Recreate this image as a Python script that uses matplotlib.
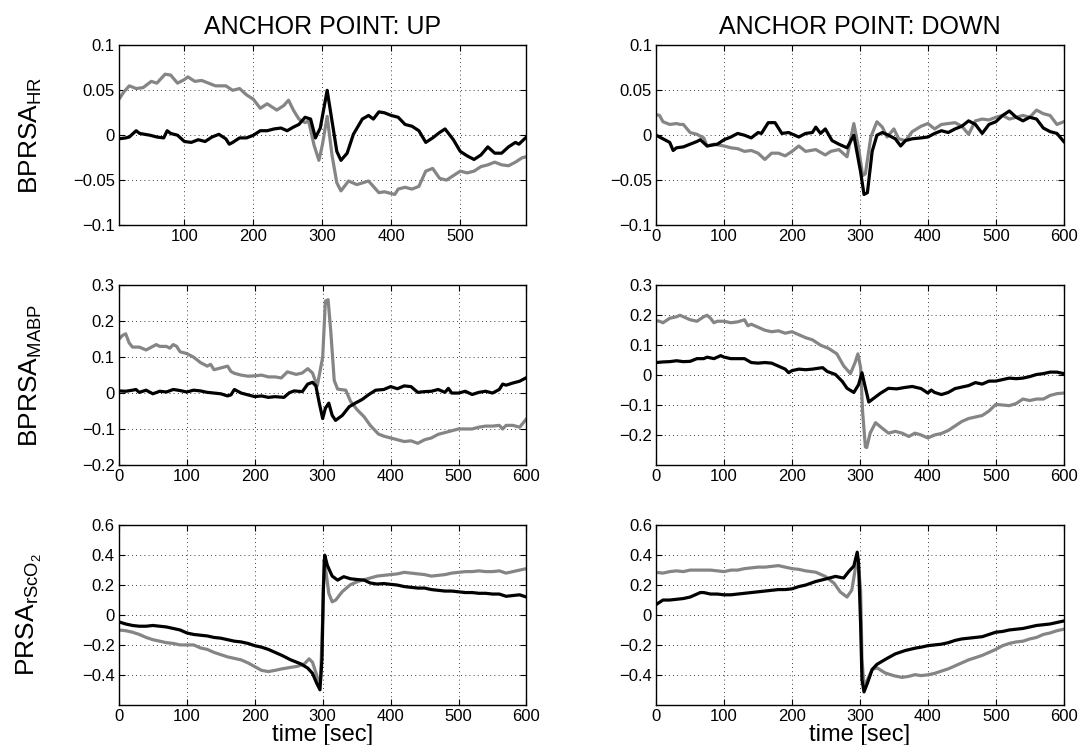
import matplotlib
matplotlib.use("Agg")
import matplotlib.pyplot as plt
from matplotlib.ticker import FuncFormatter

plt.rcParams['font.family'] = ['Liberation Sans', 'DejaVu Sans']
plt.rcParams['mathtext.fontset'] = 'custom'
plt.rcParams['mathtext.rm'] = 'Liberation Sans'
plt.rcParams['mathtext.it'] = 'Liberation Sans'

# ---- data: (time [s], value) ----
hr_up_gray = [(5,0.040),(12,0.048),(20,0.055),(30,0.052),(40,0.053),(52,0.060),(60,0.058),(72,0.068),(80,0.067),(90,0.058),(100,0.062),(105,0.065),(115,0.060),(125,0.061),(135,0.058),(145,0.055),(160,0.055),(170,0.050),(180,0.052),(190,0.045),(200,0.040),(210,0.030),(220,0.035),(234,0.028),(244,0.033),(251,0.039),(258,0.028),(266,0.018),(275,0.014),(280,0.016),(288,-0.011),(295,-0.028),(300,-0.011),(307,0.021),(314,-0.022),(321,-0.053),(327,-0.062),(338,-0.051),(350,-0.055),(367,-0.051),(382,-0.064),(390,-0.063),(400,-0.065),(405,-0.066),(410,-0.060),(420,-0.058),(430,-0.060),(440,-0.057),(450,-0.040),(460,-0.037),(470,-0.048),(480,-0.050),(490,-0.045),(500,-0.040),(510,-0.042),(520,-0.040),(530,-0.035),(540,-0.033),(550,-0.030),(560,-0.033),(570,-0.034),(580,-0.030),(590,-0.025),(596,-0.024)]
hr_up_black = [(5,-0.004),(15,-0.003),(20,-0.002),(30,0.005),(35,0.002),(50,0.0),(60,-0.002),(70,-0.003),(75,0.005),(80,0.002),(90,0.0),(100,-0.007),(110,-0.008),(120,-0.005),(130,-0.007),(140,-0.002),(150,0.001),(160,-0.004),(165,-0.010),(170,-0.008),(180,-0.003),(190,-0.003),(200,0.0),(210,0.005),(220,0.005),(230,0.007),(240,0.008),(249,0.005),(258,0.009),(266,0.012),(275,0.020),(283,0.018),(290,-0.003),(297,0.008),(307,0.050),(314,0.016),(321,-0.018),(327,-0.028),(336,-0.020),(345,0.001),(358,0.018),(367,0.022),(374,0.018),(382,0.026),(390,0.025),(400,0.022),(410,0.020),(420,0.012),(430,0.010),(440,0.005),(450,-0.008),(460,-0.003),(470,0.003),(478,0.007),(490,-0.005),(500,-0.018),(510,-0.023),(520,-0.027),(530,-0.022),(540,-0.013),(550,-0.020),(560,-0.020),(570,-0.013),(580,-0.008),(585,-0.010),(596,-0.002)]

hr_down_gray = [(0,0.023),(5,0.022),(10,0.015),(20,0.012),(30,0.013),(35,0.012),(40,0.012),(50,0.003),(60,0.001),(70,-0.003),(75,-0.012),(85,-0.010),(100,-0.012),(110,-0.014),(120,-0.015),(130,-0.018),(140,-0.017),(150,-0.020),(160,-0.027),(170,-0.020),(180,-0.020),(190,-0.023),(200,-0.018),(210,-0.012),(220,-0.018),(235,-0.016),(249,-0.022),(257,-0.018),(269,-0.016),(281,-0.024),(291,0.013),(298,-0.014),(304,-0.045),(308,-0.043),(316,-0.002),(325,0.015),(333,0.009),(340,-0.002),(350,0.007),(357,-0.004),(367,-0.006),(377,0.004),(390,0.010),(400,0.013),(410,0.007),(420,0.012),(430,0.013),(440,0.014),(450,0.010),(460,0.001),(470,0.016),(480,0.018),(490,0.017),(500,0.020),(510,0.022),(520,0.018),(530,0.020),(540,0.022),(550,0.020),(560,0.028),(570,0.024),(580,0.022),(590,0.012),(600,0.015)]
hr_down_black = [(0,0.0),(5,-0.002),(10,-0.004),(20,-0.008),(25,-0.017),(30,-0.014),(40,-0.013),(50,-0.010),(60,-0.007),(65,-0.005),(75,-0.012),(90,-0.010),(100,-0.005),(110,-0.002),(120,0.002),(130,0.0),(140,-0.003),(150,0.003),(155,0.002),(165,0.014),(175,0.014),(185,0.002),(195,0.003),(210,-0.002),(220,0.002),(230,0.003),(235,0.009),(242,0.002),(249,0.007),(259,-0.006),(269,-0.010),(281,-0.014),(291,0.0),(301,-0.041),(306,-0.066),(311,-0.064),(318,-0.018),(325,0.0),(333,0.003),(342,0.0),(352,-0.004),(360,-0.012),(367,-0.006),(377,-0.004),(390,-0.003),(400,-0.002),(410,0.002),(420,0.005),(430,0.003),(440,0.007),(450,0.010),(460,0.016),(470,0.012),(480,0.002),(490,0.012),(500,0.015),(510,0.022),(520,0.027),(530,0.020),(540,0.016),(550,0.020),(560,0.018),(570,0.008),(580,0.004),(590,0.002),(600,-0.007)]

mabp_up_gray = [(0,0.150),(5,0.160),(10,0.165),(15,0.140),(20,0.128),(30,0.128),(40,0.120),(50,0.130),(55,0.135),(60,0.130),(70,0.130),(75,0.125),(80,0.135),(85,0.130),(90,0.115),(100,0.110),(110,0.100),(120,0.085),(130,0.075),(135,0.080),(140,0.065),(150,0.070),(160,0.075),(165,0.060),(170,0.055),(180,0.050),(190,0.047),(200,0.048),(210,0.050),(220,0.045),(230,0.045),(239,0.042),(248,0.059),(261,0.052),(270,0.056),(278,0.068),(285,0.056),(292,0.020),(300,0.100),(304,0.256),(308,0.260),(312,0.170),(317,0.035),(322,0.011),(334,0.008),(341,-0.023),(351,-0.047),(361,-0.066),(370,-0.090),(382,-0.114),(390,-0.120),(400,-0.125),(410,-0.130),(420,-0.135),(430,-0.133),(440,-0.140),(450,-0.130),(460,-0.125),(470,-0.115),(480,-0.110),(490,-0.105),(500,-0.100),(510,-0.100),(520,-0.100),(530,-0.095),(540,-0.092),(550,-0.092),(560,-0.090),(565,-0.100),(570,-0.090),(580,-0.090),(590,-0.095),(600,-0.072)]
mabp_up_black = [(0,0.006),(10,0.005),(20,0.008),(25,0.010),(30,0.002),(40,0.008),(50,-0.002),(60,0.005),(70,0.003),(80,0.010),(90,0.007),(100,0.003),(110,0.008),(120,0.006),(130,0.002),(140,0.0),(150,-0.002),(160,-0.008),(165,-0.005),(170,0.010),(180,0.0),(190,-0.005),(200,-0.010),(210,-0.008),(220,-0.012),(230,-0.010),(243,-0.012),(251,0.001),(258,0.006),(270,0.004),(278,0.025),(285,0.030),(290,0.020),(295,-0.028),(300,-0.071),(304,-0.042),(309,-0.028),(314,-0.062),(319,-0.076),(329,-0.062),(339,-0.038),(348,-0.028),(358,-0.018),(368,-0.004),(378,0.008),(390,0.010),(400,0.018),(410,0.012),(420,0.020),(430,0.018),(440,0.002),(450,0.004),(460,0.005),(470,0.010),(480,0.002),(485,0.013),(490,0.0),(500,0.0),(510,0.005),(520,-0.004),(530,0.002),(540,0.005),(550,0.0),(560,0.010),(565,0.025),(570,0.022),(580,0.028),(590,0.033),(600,0.043)]

mabp_down_gray = [(0,0.182),(5,0.180),(10,0.175),(20,0.190),(30,0.195),(35,0.200),(40,0.195),(50,0.185),(60,0.180),(70,0.195),(75,0.200),(80,0.190),(85,0.175),(90,0.180),(100,0.180),(110,0.175),(120,0.178),(130,0.185),(135,0.165),(140,0.170),(150,0.160),(160,0.150),(170,0.145),(180,0.148),(190,0.140),(200,0.145),(210,0.135),(220,0.125),(230,0.118),(242,0.100),(254,0.089),(266,0.071),(276,0.031),(286,0.005),(293,0.043),(297,0.071),(301,0.025),(304,-0.125),(308,-0.240),(310,-0.242),(315,-0.194),(323,-0.159),(332,-0.176),(342,-0.194),(352,-0.188),(362,-0.194),(372,-0.205),(381,-0.194),(390,-0.200),(400,-0.210),(410,-0.200),(420,-0.195),(430,-0.185),(440,-0.170),(450,-0.155),(460,-0.145),(470,-0.140),(480,-0.135),(490,-0.120),(500,-0.098),(510,-0.100),(520,-0.102),(530,-0.095),(540,-0.080),(550,-0.085),(560,-0.080),(570,-0.080),(580,-0.068),(590,-0.062),(600,-0.060)]
mabp_down_black = [(0,0.042),(10,0.044),(20,0.045),(30,0.048),(40,0.045),(50,0.046),(60,0.055),(70,0.055),(75,0.060),(85,0.055),(95,0.065),(100,0.060),(110,0.055),(120,0.055),(130,0.055),(140,0.042),(150,0.040),(160,0.042),(170,0.040),(180,0.030),(190,0.020),(195,0.008),(200,0.015),(210,0.020),(220,0.018),(230,0.020),(245,0.025),(252,0.012),(264,0.002),(274,-0.021),(281,-0.044),(291,-0.058),(298,-0.032),(303,0.008),(307,-0.032),(313,-0.090),(320,-0.078),(330,-0.061),(342,-0.044),(354,-0.046),(367,-0.041),(377,-0.038),(390,-0.045),(400,-0.060),(405,-0.050),(410,-0.058),(420,-0.065),(430,-0.058),(440,-0.045),(450,-0.040),(460,-0.035),(470,-0.025),(480,-0.030),(490,-0.020),(500,-0.020),(510,-0.015),(520,-0.010),(530,-0.012),(540,-0.010),(550,-0.005),(560,0.002),(570,0.005),(580,0.010),(590,0.010),(600,0.005)]

rso2_up_gray = [(0,-0.100),(10,-0.105),(20,-0.115),(30,-0.130),(40,-0.150),(50,-0.165),(60,-0.175),(70,-0.185),(80,-0.190),(90,-0.200),(100,-0.200),(110,-0.200),(120,-0.220),(130,-0.230),(140,-0.250),(150,-0.265),(160,-0.280),(170,-0.290),(180,-0.300),(190,-0.320),(200,-0.345),(210,-0.370),(220,-0.378),(230,-0.370),(240,-0.360),(253,-0.350),(263,-0.343),(273,-0.327),(280,-0.293),(285,-0.316),(290,-0.385),(295,-0.454),(297,-0.420),(300,-0.016),(302,0.370),(305,0.284),(309,0.145),(314,0.088),(319,0.099),(329,0.157),(341,0.203),(353,0.226),(366,0.242),(380,0.260),(390,0.265),(400,0.270),(410,0.275),(420,0.285),(430,0.280),(440,0.275),(450,0.270),(460,0.260),(470,0.265),(480,0.270),(490,0.280),(500,0.285),(510,0.290),(520,0.290),(530,0.295),(540,0.290),(550,0.290),(560,0.295),(570,0.280),(580,0.290),(590,0.300),(600,0.310)]
rso2_up_black = [(0,-0.046),(10,-0.060),(20,-0.070),(30,-0.075),(40,-0.075),(50,-0.070),(60,-0.075),(70,-0.080),(80,-0.090),(90,-0.100),(100,-0.120),(110,-0.130),(120,-0.135),(130,-0.140),(140,-0.150),(150,-0.155),(160,-0.165),(170,-0.175),(180,-0.180),(190,-0.190),(200,-0.205),(210,-0.215),(220,-0.230),(230,-0.250),(240,-0.270),(253,-0.300),(268,-0.327),(278,-0.355),(285,-0.390),(291,-0.454),(296,-0.500),(299,-0.293),(301,0.168),(303,0.400),(307,0.330),(314,0.260),(322,0.233),(331,0.256),(341,0.242),(351,0.237),(361,0.233),(370,0.214),(380,0.207),(390,0.210),(400,0.205),(410,0.200),(420,0.190),(430,0.185),(440,0.180),(450,0.180),(460,0.170),(470,0.165),(480,0.160),(490,0.160),(500,0.155),(510,0.150),(520,0.150),(530,0.145),(540,0.145),(550,0.140),(560,0.140),(570,0.125),(580,0.130),(590,0.135),(600,0.120)]

rso2_down_gray = [(0,0.285),(10,0.280),(20,0.290),(30,0.295),(40,0.290),(50,0.300),(60,0.300),(70,0.300),(80,0.300),(90,0.295),(100,0.290),(110,0.300),(120,0.300),(130,0.310),(140,0.315),(150,0.320),(160,0.320),(170,0.325),(180,0.330),(190,0.320),(200,0.310),(210,0.305),(220,0.295),(235,0.286),(249,0.258),(262,0.212),(271,0.154),(281,0.120),(288,0.166),(293,0.304),(297,0.373),(301,0.166),(303,-0.295),(306,-0.480),(311,-0.433),(318,-0.364),(325,-0.353),(337,-0.387),(350,-0.406),(362,-0.417),(372,-0.410),(381,-0.399),(390,-0.405),(400,-0.400),(410,-0.390),(420,-0.375),(430,-0.360),(440,-0.340),(450,-0.320),(460,-0.300),(470,-0.285),(480,-0.270),(490,-0.250),(500,-0.230),(510,-0.205),(520,-0.190),(530,-0.180),(540,-0.175),(550,-0.160),(560,-0.150),(570,-0.130),(580,-0.120),(590,-0.105),(600,-0.095)]
rso2_down_black = [(0,0.070),(10,0.100),(20,0.100),(30,0.105),(40,0.110),(50,0.120),(60,0.140),(65,0.150),(70,0.150),(80,0.140),(90,0.140),(100,0.135),(110,0.135),(120,0.140),(130,0.145),(140,0.150),(150,0.155),(160,0.160),(170,0.165),(180,0.170),(190,0.170),(200,0.175),(210,0.190),(220,0.200),(235,0.224),(249,0.240),(264,0.258),(276,0.247),(284,0.293),(291,0.327),(296,0.420),(298,0.350),(301,-0.065),(303,-0.433),(306,-0.514),(311,-0.456),(318,-0.364),(325,-0.330),(338,-0.295),(352,-0.260),(367,-0.237),(382,-0.221),(390,-0.215),(400,-0.205),(410,-0.200),(420,-0.195),(430,-0.185),(440,-0.170),(450,-0.160),(460,-0.155),(470,-0.150),(480,-0.145),(490,-0.130),(500,-0.115),(510,-0.110),(520,-0.100),(530,-0.095),(540,-0.090),(550,-0.080),(560,-0.070),(570,-0.065),(580,-0.060),(590,-0.050),(600,-0.040)]

col_titles = ["ANCHOR POINT: UP", "ANCHOR POINT: DOWN"]
row_labels = [r"BPRSA$_{\mathrm{HR}}$", r"BPRSA$_{\mathrm{MABP}}$", r"PRSA$_{\mathrm{rScO}_{2}}$"]
row_ylims = [(-0.1, 0.1), (-0.2, 0.3), (-0.6, 0.6)]
row_yticks = [[-0.1, -0.05, 0, 0.05, 0.1], [-0.2, -0.1, 0, 0.1, 0.2, 0.3], [-0.4, -0.2, 0, 0.2, 0.4, 0.6]]
xticks_full = [0, 100, 200, 300, 400, 500, 600]

panels = [
    [(hr_up_gray, hr_up_black), (hr_down_gray, hr_down_black)],
    [(mabp_up_gray, mabp_up_black), (mabp_down_gray, mabp_down_black)],
    [(rso2_up_gray, rso2_up_black), (rso2_down_gray, rso2_down_black)],
]

GRAY = '#858585'


def fmt(v, pos):
    s = '%g' % round(v, 4)
    return s.replace('-', '\u2212')


fig = plt.figure(figsize=(10.81, 7.45), dpi=100)

lefts = [0.110, 0.607]
bottoms = [0.698, 0.376, 0.054]
w, h = 0.377, 0.241

for r in range(3):
    for c in range(2):
        ax = fig.add_axes([lefts[c], bottoms[r], w, h])
        gray, black = panels[r][c]
        ax.plot([p[0] for p in gray], [p[1] for p in gray], color=GRAY, lw=2.3, solid_joinstyle='round')
        ax.plot([p[0] for p in black], [p[1] for p in black], color='k', lw=2.3, solid_joinstyle='round')

        ylim = row_ylims[r]
        if r == 1 and c == 1:
            ylim = (-0.3, 0.3)
        ax.set_ylim(*ylim)
        ax.set_yticks(row_yticks[r])
        ax.yaxis.set_major_formatter(FuncFormatter(fmt))

        if r == 0 and c == 0:
            ax.set_xlim(5, 596)
            ax.set_xticks([100, 200, 300, 400, 500])
        else:
            ax.set_xlim(0, 600)
            ax.set_xticks(xticks_full)

        ax.grid(True, color='k', linestyle=(0, (1, 4)), linewidth=0.6)
        ax.tick_params(direction='in', top=True, right=True, length=4, width=0.8,
                       labelsize=12, pad=3)
        for sp in ax.spines.values():
            sp.set_linewidth(1.0)

        if r == 0:
            ax.set_title(col_titles[c], fontsize=18, pad=8)
        if c == 0:
            ax.set_ylabel(row_labels[r], fontsize=19)
            ax.yaxis.set_label_coords(-0.185, 0.5)
        if r == 2:
            ax.set_xlabel("time [sec]", fontsize=17, labelpad=0)

fig.savefig("out.png", dpi=100)
